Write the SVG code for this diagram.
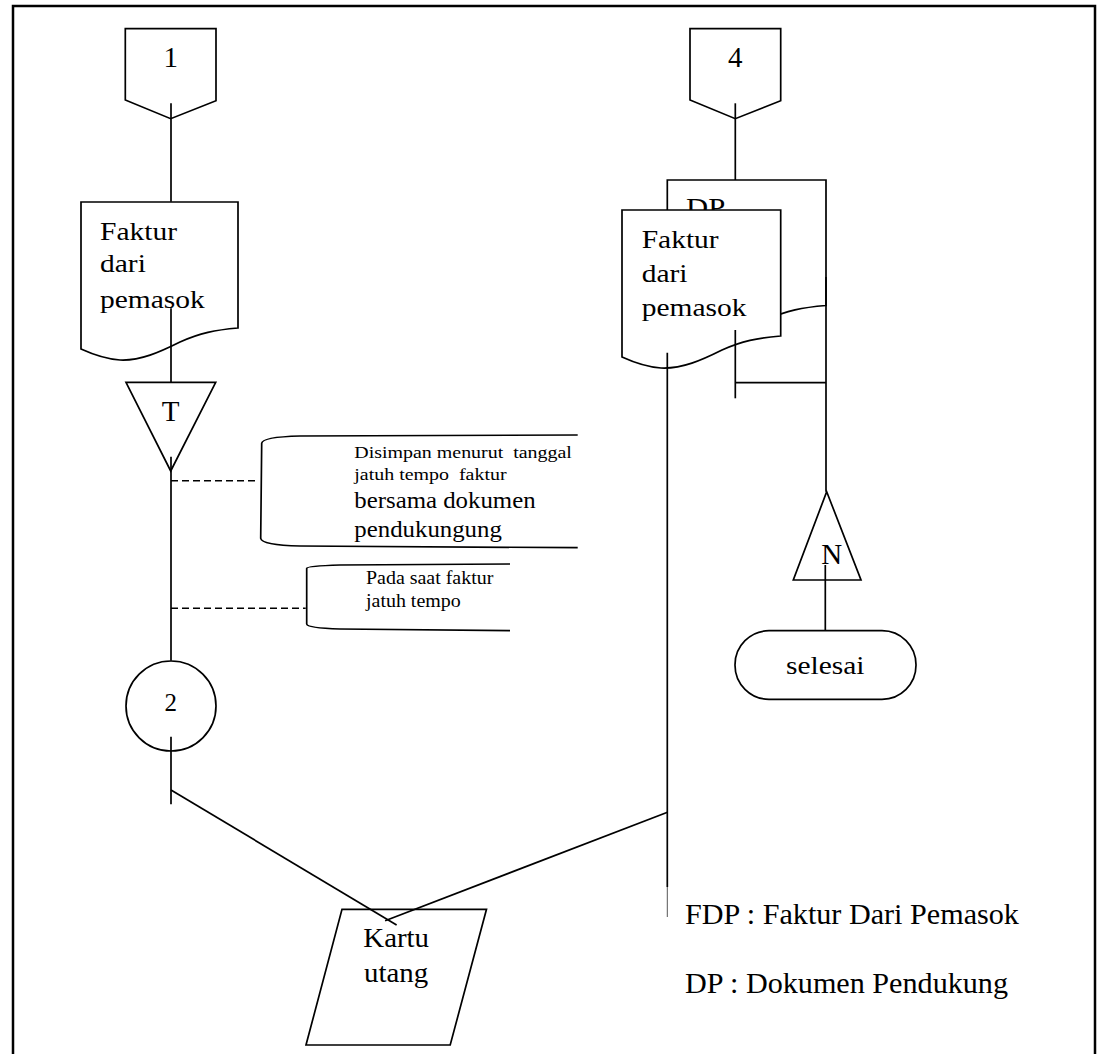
<svg xmlns="http://www.w3.org/2000/svg" width="1097" height="1054" viewBox="0 0 1097 1054">
<style>
.s{fill:#fff;stroke:#000;stroke-width:1.7}
.o{fill:none;stroke:#000;stroke-width:1.7}
.c{fill:none;stroke:#000;stroke-width:1.7}
.d{fill:none;stroke:#000;stroke-width:1.5;stroke-dasharray:7 4}
text{font-family:"Liberation Serif","Times New Roman",serif;fill:#000;white-space:pre}
.L{font-size:25px}
.m{text-anchor:middle}
</style>
<rect width="1097" height="1054" fill="#fff"/>
<path d="M13 1054 V6 H1095 V1054" fill="none" stroke="#000" stroke-width="2.5"/>

<g id="conn1">
<path class="s" d="M125.3 28.7 H216 V100.7 L170.7 118.7 L125.3 100 Z"/>
<text x="170.7" y="67" class="m" font-size="29">1</text>
</g>
<g id="conn4">
<path class="s" d="M690 28.7 H780.7 V100.7 L735.3 118.7 L690 100 Z"/>
<text x="735.3" y="67" class="m" font-size="29">4</text>
</g>

<g id="doc-faktur-left">
<path class="s" d="M81 202 H238 V328 C215 330 200 333 180 342 C160 352 140 361 120 360 C105 359 92 354 81 349 Z"/>
<text class="L" transform="translate(100 240) scale(1.18 1)">Faktur</text>
<text class="L" transform="translate(100 272) scale(1.18 1)">dari</text>
<text class="L" transform="translate(100 308) scale(1.18 1)">pemasok</text>
</g>

<g id="doc-dp">
<path class="s" d="M667.3 180 H826 V305.5 C802 307.5 787 310.5 767 319.5 C747 329.5 727 338.5 706 337.5 C691 336.5 678 331.5 667.3 326.5 Z"/>
<text font-size="26" transform="translate(686 216) scale(1.18 1)">DP</text>
</g>
<g id="doc-faktur-right">
<path class="s" d="M622 210 H780.7 V336 C757 338 742 341 722 350 C702 360 682 369 661 368 C646 367 633 362 622 357 Z"/>
<text class="L" transform="translate(641.7 248) scale(1.18 1)">Faktur</text>
<text class="L" transform="translate(641.7 282) scale(1.18 1)">dari</text>
<text class="L" transform="translate(641.7 316) scale(1.18 1)">pemasok</text>
</g>

<g id="file-T">
<path class="s" d="M126 382.3 H215.7 L170.7 471 Z"/>
<text x="170.7" y="421" class="m" font-size="29">T</text>
</g>

<g id="note-1">
<path class="o" d="M577.7 435 L300 436 Q262 437 261.7 443.3 L260.7 538.3 Q262 545 300 546 L577.7 547.7"/>
<text font-size="17.5" transform="translate(354.3 457.7) scale(1.14 1)">Disimpan menurut  tanggal</text>
<text font-size="17.5" transform="translate(354.3 479.5) scale(1.14 1)">jatuh tempo  faktur</text>
<text font-size="23" transform="translate(354.3 508.3) scale(1.08 1)">bersama dokumen</text>
<text font-size="23" transform="translate(354.3 536.7) scale(1.08 1)">pendukungung</text>
</g>

<g id="note-2">
<path class="o" d="M510 564 L340 565 Q307 566 306.7 568.3 L306.7 624 Q307 628 340 629 L510 630.7"/>
<text font-size="19" transform="translate(366 584.3) scale(1.05 1)">Pada saat faktur</text>
<text font-size="19" transform="translate(366 606.7) scale(1.05 1)">jatuh tempo</text>
</g>

<g id="conn2">
<circle class="s" cx="171" cy="706" r="45"/>
<text x="170.8" y="710.7" class="m" font-size="25">2</text>
</g>

<g id="kartu-utang">
<path class="s" d="M342 909.3 H486.5 L450.2 1045 H306 Z"/>
<text font-size="27" transform="translate(363.3 947.3) scale(1.07 1)">Kartu</text>
<text font-size="27" transform="translate(364 981.7) scale(1.07 1)">utang</text>
</g>

<g id="file-N">
<path class="s" d="M826.7 491.7 L861 580 H793.3 Z"/>
<text x="831.7" y="564" class="m" font-size="29">N</text>
</g>

<g id="selesai">
<rect class="s" x="735" y="630.7" width="181" height="68.6" rx="34" ry="34"/>
<text class="L m" transform="translate(825.2 674) scale(1.18 1)">selesai</text>
</g>

<g id="connectors">
<path class="c" d="M171 103.3 V201.7"/>
<path class="c" d="M171 308.3 V382.3"/>
<path class="c" d="M171 456.7 V660.7"/>
<path class="d" d="M171 480.7 H256.7"/>
<path class="d" d="M171 608.3 H305.7"/>
<path class="c" d="M171 736.7 V804.3"/>
<path class="c" d="M171 790 L396.6 925"/>
<path class="c" d="M735.3 103.3 V180"/>
<path class="c" d="M667.3 352.7 V887"/>
<path d="M667.3 887 V917" stroke="#555" stroke-width="1"/>
<path class="c" d="M667.5 812.3 L385.1 920.7"/>
<path class="c" d="M735.3 330 V398.3"/>
<path class="c" d="M735.3 382.7 H826"/>
<path class="c" d="M826 277 V491.7"/>
<path class="c" d="M825.3 565 V630.7"/>
</g>

<g id="legend">
<text font-size="29" transform="translate(685 924) scale(1.04 1)">FDP : Faktur Dari Pemasok</text>
<text font-size="29" transform="translate(685 993.3) scale(1.04 1)">DP : Dokumen Pendukung</text>
</g>
</svg>
